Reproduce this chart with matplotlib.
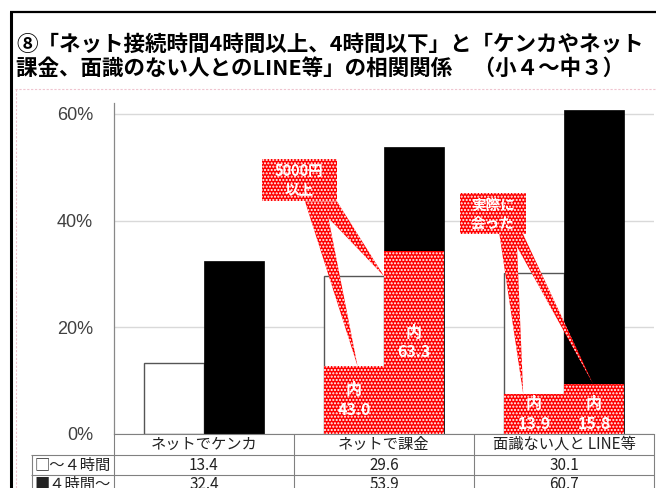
import numpy as np
import matplotlib
matplotlib.use('Agg')
import matplotlib.pyplot as plt
import matplotlib.transforms as mtrans
from matplotlib.patches import Rectangle, Polygon
from matplotlib.lines import Line2D

# ====== データ ======
categories = ['ネットでケンカ', 'ネットで課金', '面識ない人と LINE等']
row_labels = ['□～４時間', '■４時間～']
under4h = [13.4, 29.6, 30.1]   # ～4時間
over4h = [32.4, 53.9, 60.7]    # 4時間～
yticks = [0, 20, 40, 60]

# 「内」の赤い部分（図に描かれている高さ）とラベル
inner_cats = [1, 2]
inner_under_h = [12.7, 7.5]
inner_over_h = [34.3, 9.4]
inner_under_lbl = ['43.0', '13.9']
inner_over_lbl = ['63.3', '15.8']
callout_texts = ['5000円\n以上', '実際に\n会った']

title1 = '⑧「ネット接続時間4時間以上、4時間以下」と「ケンカやネット'
title2 = '課金、面識のない人とのLINE等」の相関関係　（小４～中３）'

plt.rcParams['font.family'] = ['Noto Sans CJK JP', 'DejaVu Sans']
plt.rcParams['hatch.linewidth'] = 1.0

W, H = 656, 488
RED = '#ff0000'
HATCH = '.....'
GRID = '#808080'

fig = plt.figure(figsize=(W / 100, H / 100), dpi=100)


def fx(px):
    return px / W


def fy(py):
    return 1 - py / H


def fline(x1, y1, x2, y2, color=GRID, lw=0.8, ls='-'):
    fig.add_artist(Line2D([fx(x1), fx(x2)], [fy(y1), fy(y2)], transform=fig.transFigure,
                          color=color, lw=lw, ls=ls, solid_capstyle='butt'))


# 外枠とピンクの点線
fline(10.5, 488, 10.5, 11.5, color='black', lw=2.2)
fline(9.5, 11.5, 656, 11.5, color='black', lw=1.6)
fline(15, 88.5, 656, 88.5, color='#efc4cf', lw=0.8, ls=(0, (2, 1.5)))
fline(15.5, 88.5, 15.5, 488, color='#efc4cf', lw=0.8, ls=(0, (2, 1.5)))

# タイトル
fig.text(fx(16), fy(44), title1, fontsize=15.5, fontweight='bold', va='center', ha='left')
fig.text(fx(16), fy(68), title2, fontsize=15.5, fontweight='bold', va='center', ha='left')

# グラフ本体
ax_top = 103.3
ax = fig.add_axes([fx(114), fy(434), (654 - 114) / W, (434 - ax_top) / H])
x = np.arange(len(categories))
bw = 1 / 3
ax.bar(x - bw / 2, under4h, bw, color='white', edgecolor='#555555', linewidth=1, zorder=2)
ax.bar(x + bw / 2, over4h, bw, color='black', edgecolor='black', linewidth=0.5, zorder=2)

xi = np.array(inner_cats)
ax.bar(xi - bw / 2, inner_under_h, bw, color=RED, edgecolor='white', linewidth=0, hatch=HATCH, zorder=3)
ax.bar(xi + bw / 2, inner_over_h, bw, color=RED, edgecolor='white', linewidth=0, hatch=HATCH, zorder=3)

lbl_kw = dict(color='white', fontsize=11.5, fontweight='bold', ha='center', va='center',
              linespacing=1.3, zorder=6, clip_on=True)
for c, hu, ho, lu, lo in zip(inner_cats, inner_under_h, inner_over_h, inner_under_lbl, inner_over_lbl):
    yu = hu / 2 if hu > 10 else 3.8
    yo = ho / 2 if ho > 10 else 3.8
    ax.text(c - bw / 2, yu, '内\n' + lu, **lbl_kw)
    ax.text(c + bw / 2, yo, '内\n' + lo, **lbl_kw)

# 吹き出し
boxes = [(0.322, 43.6, 0.417, 8.0), (1.422, 37.5, 0.367, 7.7)]
wedges = [
    [(0.561, 43.6), (1 - bw / 2 + 0.02, inner_under_h[0]), (0.691, 40.5),
     (1.0, under4h[1]), (0.739, 43.6)],
    [(1.641, 37.5), (2 - bw / 2 - 0.06, inner_under_h[1]), (1.739, 35.1),
     (2 + bw / 2 - 0.005, inner_over_h[1]), (1.772, 37.5)],
]
for (bx, by, bwid, bh), poly, txt in zip(boxes, wedges, callout_texts):
    ax.add_patch(Polygon(poly, closed=True, facecolor=RED, edgecolor='white', linewidth=0,
                         hatch=HATCH, zorder=4))
    ax.add_patch(Rectangle((bx, by), bwid, bh, facecolor=RED, edgecolor='white', linewidth=0,
                           hatch=HATCH, zorder=4))
    ax.text(bx + bwid / 2, by + bh / 2, txt, color='white', fontsize=10.5, fontweight='bold',
            ha='center', va='center', linespacing=1.1, zorder=6)

ax.set_xlim(-0.5, 2.5)
ax.set_ylim(0, 62)
ax.set_yticks(yticks)
ax.set_yticklabels([f'{v}%' for v in yticks], family='Liberation Sans', fontsize=13, color='#404040')
ax.set_xticks([])
ax.tick_params(axis='y', length=0, pad=15)
ax.set_axisbelow(True)
ax.yaxis.grid(True, color='#d9d9d9', lw=1)
for s in ['top', 'right']:
    ax.spines[s].set_visible(False)
ax.spines['left'].set_color('#888888')
ax.spines['bottom'].set_color(GRID)
ax.spines['left'].set_linewidth(0.9)
ax.spines['bottom'].set_linewidth(0.8)

# データテーブル
fline(31, 454.5, 654, 454.5)
fline(31, 475, 654, 475)
for px in [114, 293.5, 473.5, 653.5]:
    fline(px, 434, px, 488)
fline(31.5, 454.5, 31.5, 488)

tr = mtrans.blended_transform_factory(ax.transData, fig.transFigure)
txt_kw = dict(fontsize=11, va='center', color='#222222')
for i, cat in enumerate(categories):
    fig.text(i, fy(444.5), cat, transform=tr, ha='center', **txt_kw)
    fig.text(i, fy(465), f'{under4h[i]:.1f}', transform=tr, ha='center', **txt_kw)
    fig.text(i, fy(484.5), f'{over4h[i]:.1f}', transform=tr, ha='center', **txt_kw)
fig.text(fx(34), fy(465), row_labels[0], ha='left', **txt_kw)
fig.text(fx(34), fy(484.5), row_labels[1], ha='left', **txt_kw)

plt.savefig('out.png', dpi=100)
